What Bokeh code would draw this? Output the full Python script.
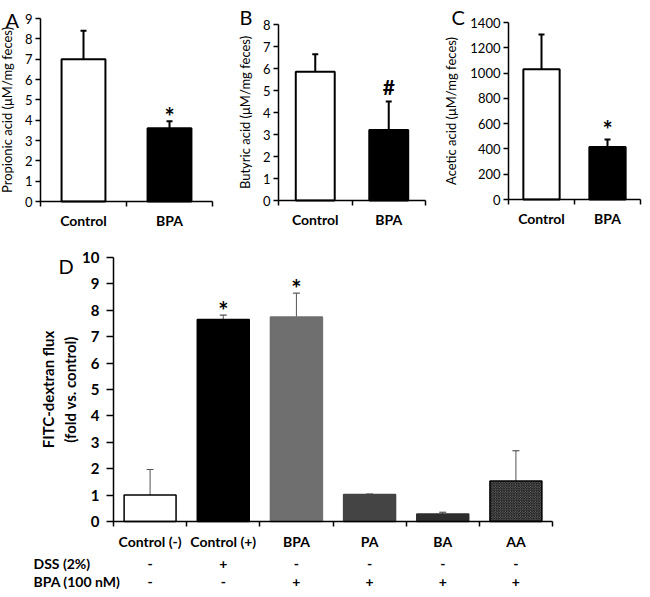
from bokeh.plotting import figure
from bokeh.layouts import column, row
from bokeh.models import (Range1d, FixedTicker, SingleIntervalTicker, Whisker, TeeHead,
                          ColumnDataSource)
from bokeh.core.properties import value
from bokeh.embed import file_html
from bokeh.resources import INLINE

FONT = "Lato"

# ---------------- data ----------------
groups_top = ["Control", "BPA"]
propionic_mean = [7.0, 3.6]
propionic_err = [1.4, 0.35]
butyric_mean = [5.85, 3.2]
butyric_err = [0.8, 1.3]
acetic_mean = [1030, 415]
acetic_err = [275, 60]
sig_A = ["", "*"]
sig_B = ["", "#"]
sig_C = ["", "*"]
top_colors = ["white", "black"]

groups_D = ["Control (-)", "Control (+)", "BPA", "PA", "BA", "AA"]
fitc_mean = [1.0, 7.65, 7.75, 1.02, 0.28, 1.53]
fitc_err = [0.97, 0.17, 0.9, 0.02, 0.07, 1.15]
sig_D = ["", "*", "*", "", "", ""]
row_names = ["DSS (2%)", "BPA (100 nM)"]
dss_row = ["-", "+", "-", "-", "-", "-"]
bpa_row = ["-", "-", "+", "+", "+", "+"]
D_colors = ["white", "black", "#6f6f6f", "#444444", "#2e2e2e", "#9a9a9a"]
D_lines = ["black", "black", "#6f6f6f", "#444444", "#2e2e2e", "black"]
D_hatch = [" ", " ", " ", " ", " ", "diagonal_cross"]


def make_ranges(width, height, n, ymax, ax_left, ax_right, ax_top, ax_bottom):
    """Ranges so that the axis box (pixels inside the figure) maps to [-0.5, n-0.5] x [0, ymax]."""
    sx = (ax_right - ax_left) / n
    x0 = -0.5 - ax_left / sx
    sy = (ax_bottom - ax_top) / ymax
    y1 = ymax + ax_top / sy
    return Range1d(x0, x0 + width / sx), Range1d(y1 - height / sy, y1), sx, sy


def style(p, n, ymax, yint, ylabel, tick_size, tick_bold, tick_out, tick_standoff,
          title_size, title_bold, title_standoff, cat_size, cat_standoff, groups):
    p.grid.visible = False
    p.outline_line_color = None
    p.background_fill_color = "white"
    p.border_fill_color = "white"
    ya = p.yaxis[0]
    ya.fixed_location = -0.5
    ya.bounds = (0, ymax)
    ya.ticker = SingleIntervalTicker(interval=yint)
    ya.axis_label = ylabel
    ya.axis_label_text_font = FONT
    ya.axis_label_text_font_size = title_size
    ya.axis_label_text_font_style = "bold" if title_bold else "normal"
    ya.axis_label_text_color = "black"
    ya.axis_label_standoff = title_standoff
    ya.major_label_text_font = FONT
    ya.major_label_text_font_size = tick_size
    ya.major_label_text_font_style = "bold" if tick_bold else "normal"
    ya.major_label_text_color = "black"
    ya.major_label_standoff = tick_standoff
    ya.axis_line_width = 1.5
    ya.axis_line_color = "black"
    ya.major_tick_line_width = 1.5
    ya.major_tick_line_color = "black"
    ya.major_tick_out = tick_out
    ya.major_tick_in = 0
    ya.minor_tick_line_color = None
    xa = p.xaxis[0]
    xa.fixed_location = 0
    xa.bounds = (-0.5, n - 0.5)
    xa.ticker = FixedTicker(ticks=list(range(n)), minor_ticks=[i - 0.5 for i in range(n + 1)])
    xa.major_label_overrides = {i: g for i, g in enumerate(groups)}
    xa.axis_line_width = 1.5
    xa.axis_line_color = "black"
    xa.major_tick_line_color = None
    xa.major_tick_out = 0
    xa.major_tick_in = 0
    xa.minor_tick_line_color = "black"
    xa.minor_tick_line_width = 1.5
    xa.minor_tick_out = 5
    xa.minor_tick_in = 0
    xa.major_label_text_font = FONT
    xa.major_label_text_font_size = cat_size
    xa.major_label_text_font_style = "bold"
    xa.major_label_text_color = "black"
    xa.major_label_standoff = cat_standoff


TOP_H = 232


def top_panel(letter, letter_px, letter_py, groups, mean, err, sig, ymax, yint, ylabel, width,
              ax_left, ax_right, ax_top, ax_bottom, bw, sig_size, sig_off, title_standoff):
    n = len(groups)
    xr, yr, sx, sy = make_ranges(width, TOP_H, n, ymax, ax_left, ax_right, ax_top, ax_bottom)
    xs = list(range(n))
    upper = [m + e for m, e in zip(mean, err)]
    src = ColumnDataSource(dict(x=xs, top=mean, upper=upper, color=top_colors, sig=sig))
    p = figure(width=width, height=TOP_H, x_range=xr, y_range=yr,
               output_backend="svg", toolbar_location=None,
               min_border_left=0, min_border_right=0, min_border_top=0, min_border_bottom=0)
    p.vbar(x="x", top="top", width=bw, fill_color="color", line_color="black", line_width=2, source=src)
    p.add_layout(Whisker(source=src, base="x", upper="upper", lower="top", dimension="height",
                         line_width=2, line_color="black",
                         upper_head=TeeHead(size=6, line_width=2, line_color="black"), lower_head=None))
    p.text(x="x", y="upper", text="sig", source=src, text_font=value(FONT), text_font_size=sig_size,
           text_font_style="bold", text_align="center", text_baseline="alphabetic",
           y_offset=sig_off, text_color="black")
    # panel letter in the top-left corner
    p.text(x=[xr.start + letter_px / sx], y=[yr.end - letter_py / sy], text=[letter],
           text_font=value(FONT), text_font_size="20px", text_align="left", text_baseline="top",
           text_color="black")
    style(p, n, ymax, yint, ylabel, "13px", False, 5, 3, "13px", False, title_standoff,
          "14px", 5, groups)
    return p


pA = top_panel("A", 5, 7, groups_top, propionic_mean, propionic_err, sig_A, 9, 1,
               "Propionic acid (\u03bcM/mg feces)", 235, 40, 212, 18, 201, 0.51, "24px", -5, 7)
pB = top_panel("B", 4, 4, groups_top, butyric_mean, butyric_err, sig_B, 8, 1,
               "Butyric acid (\u03bcM/mg feces)", 208, 43, 190, 24, 200, 0.53, "21px", -15, 7)
pC = top_panel("C", 8, 4, groups_top, acetic_mean, acetic_err, sig_C, 1400, 200,
               "Acetic acid (\u03bcM/mg feces)", 199, 65, 197, 22, 199, 0.55, "24px", -10, 8)

# ---------------- panel D ----------------
nD = len(groups_D)
xD = list(range(nD))
wD, hD = 642, 357
xrD, yrD, sxD, syD = make_ranges(wD, hD, nD, 10, 113, 552, 25, 289)
upperD = [m + e for m, e in zip(fitc_mean, fitc_err)]
srcD = ColumnDataSource(dict(x=xD, top=fitc_mean, upper=upperD, color=D_colors, lc=D_lines,
                             hatch=D_hatch, sig=sig_D))
pD = figure(width=wD, height=hD, x_range=xrD, y_range=yrD,
            output_backend="svg", toolbar_location=None,
            min_border_left=0, min_border_right=0, min_border_top=0, min_border_bottom=0)
pD.vbar(x="x", top="top", width=0.71, fill_color="color", line_color="lc", line_width=1.5,
        hatch_pattern="hatch", hatch_color="#222222", hatch_scale=2.5, hatch_weight=1.4, source=srcD)
pD.add_layout(Whisker(source=srcD, base="x", upper="upper", lower="top", dimension="height",
                      line_width=1, line_color="#555555",
                      upper_head=TeeHead(size=7, line_width=1.2, line_color="#555555"), lower_head=None))
pD.text(x="x", y="upper", text="sig", source=srcD, text_font=value(FONT), text_font_size="24px",
        text_font_style="bold", text_align="center", text_baseline="alphabetic", y_offset=-5,
        text_color="black")
style(pD, nD, 10, 1, "FITC-dextran flux\n(fold vs. control)", "15px", True, 7, 7,
      "15px", True, 0, "14px", 6, groups_D)

# treatment table below the x axis
row_y = [-42 / syD, -60 / syD]
for y_row, signs in zip(row_y, (dss_row, bpa_row)):
    pD.text(x=xD, y=[y_row] * nD, text=signs, text_font=value(FONT), text_font_size="14px",
            text_font_style="bold", text_align="center", text_baseline="middle", text_color="black")
pD.text(x=[-0.5 - 80 / sxD] * 2, y=row_y, text=row_names, text_font=value(FONT), text_font_size="14px",
        text_font_style="bold", text_align="left", text_baseline="middle", text_color="black")
pD.text(x=[-0.5 - 55 / sxD], y=[10 + 4 / syD], text=["D"], text_font=value(FONT),
        text_font_size="20px", text_align="left", text_baseline="top", text_color="black")

layout = column(row(pA, pB, pC), pD)
open("out.html", "w").write(file_html(layout, INLINE))
